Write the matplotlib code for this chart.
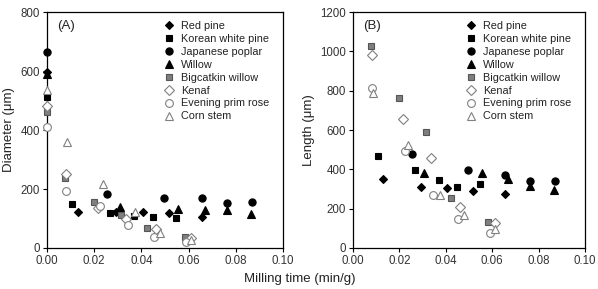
import matplotlib
matplotlib.use("Agg")
import matplotlib.pyplot as plt

plt.rcParams['font.family'] = ['Liberation Sans', 'DejaVu Sans']

species = ["Red pine", "Korean white pine", "Japanese poplar", "Willow",
           "Bigcatkin willow", "Kenaf", "Evening prim rose", "Corn stem"]

# milling time (min/g); panel A includes the unmilled point at 0
t_red = [0, 0.0130, 0.0291, 0.0406, 0.0516, 0.0655]
t_korean = [0, 0.0108, 0.0267, 0.0370, 0.0448, 0.0546]
t_poplar = [0, 0.0255, 0.0495, 0.0655, 0.0762, 0.0870]
t_willow = [0, 0.0308, 0.0556, 0.0669, 0.0762, 0.0865]
t_bigcatkin = [0, 0.0076, 0.0198, 0.0314, 0.0423, 0.0583]
t_kenaf = [0, 0.0082, 0.0215, 0.0336, 0.0462, 0.0611]
t_primrose = [0, 0.0082, 0.0226, 0.0345, 0.0452, 0.0591]
t_corn = [0, 0.0085, 0.0238, 0.0375, 0.0477, 0.0612]

# (A) diameter (um)
d_red = [598, 123, 123, 123, 117, 106]
d_korean = [511, 149, 120, 110, 105, 100]
d_poplar = [666, 182, 171, 168, 154, 157]
d_willow = [590, 140, 132, 128, 129, 115]
d_bigcatkin = [461, 238, 155, 112, 69, 36]
d_kenaf = [481, 251, 137, 97, 65, 33]
d_primrose = [411, 194, 143, 78, 36, 21]
d_corn = [536, 360, 217, 123, 52, 27]

# (B) length (um), milled samples only
l_red = [351, 309, 303, 290, 273]
l_korean = [468, 397, 347, 310, 324]
l_poplar = [478, 397, 370, 341, 341]
l_willow = [383, 383, 351, 315, 293]
l_bigcatkin = [1029, 763, 590, 253, 131]
l_kenaf = [981, 654, 458, 207, 125]
l_primrose = [812, 492, 268, 149, 78]
l_corn = [787, 524, 268, 166, 97]

times = [t_red, t_korean, t_poplar, t_willow, t_bigcatkin, t_kenaf, t_primrose, t_corn]
diams = [d_red, d_korean, d_poplar, d_willow, d_bigcatkin, d_kenaf, d_primrose, d_corn]
lengths = [l_red, l_korean, l_poplar, l_willow, l_bigcatkin, l_kenaf, l_primrose, l_corn]

styles = [
    dict(marker='D', mfc='black', mec='black', ms=4.2),
    dict(marker='s', mfc='black', mec='black', ms=5),
    dict(marker='o', mfc='black', mec='black', ms=5.2),
    dict(marker='^', mfc='black', mec='black', ms=5.2),
    dict(marker='s', mfc='#7f7f7f', mec='#555555', ms=5),
    dict(marker='D', mfc='white', mec='#808080', ms=4.6),
    dict(marker='o', mfc='white', mec='#808080', ms=5.6),
    dict(marker='^', mfc='white', mec='#808080', ms=5.8),
]

fig = plt.figure(figsize=(5.98, 2.89), dpi=100)
axA = fig.add_axes([0.0786, 0.142, 0.3946, 0.816])
axB = fig.add_axes([0.5903, 0.142, 0.3880, 0.816])

for name, t, d, l, st in zip(species, times, diams, lengths, styles):
    axA.plot(t, d, ls='none', mew=0.8, label=name, clip_on=False, zorder=3, **st)
    axB.plot(t[1:], l, ls='none', mew=0.8, label=name, clip_on=False, zorder=3, **st)

tick_color = '#333333'
for ax in (axA, axB):
    ax.set_xlim(0, 0.10)
    ax.set_xticks([0, 0.02, 0.04, 0.06, 0.08, 0.10])
    ax.set_xticklabels(['0.00', '0.02', '0.04', '0.06', '0.08', '0.10'])
    ax.tick_params(direction='out', length=3, width=0.8, labelsize=8.3,
                   labelcolor=tick_color, pad=2)
    for s in ax.spines.values():
        s.set_linewidth(0.9)
    ax.legend(loc='upper right', frameon=False, fontsize=7.8, handlelength=0.8,
              handletextpad=0.75, labelspacing=0.27, borderaxespad=0.3,
              bbox_to_anchor=(0.975, 0.995), labelcolor='#222222')

axA.set_ylim(0, 800)
axA.set_yticks([0, 200, 400, 600, 800])
axB.set_ylim(0, 1200)
axB.set_yticks([0, 200, 400, 600, 800, 1000, 1200])

axA.set_ylabel('Diameter (μm)', fontsize=9.5, color='#222222', labelpad=4)
axB.set_ylabel('Length (μm)', fontsize=9.5, color='#222222', labelpad=4)

axA.text(0.045, 0.94, '(A)', transform=axA.transAxes, fontsize=9.5,
         color='#222222', va='center', ha='left')
axB.text(0.045, 0.94, '(B)', transform=axB.transAxes, fontsize=9.5,
         color='#222222', va='center', ha='left')

fig.text(0.502, 0.035, 'Milling time (min/g)', fontsize=9.5, color='#222222',
         ha='center', va='center')

fig.savefig('out.png', dpi=100)
